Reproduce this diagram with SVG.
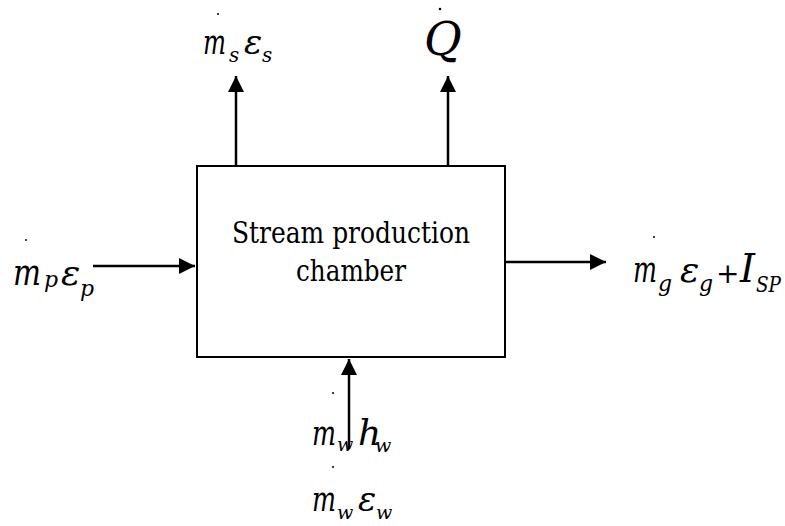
<svg xmlns="http://www.w3.org/2000/svg" width="785" height="526" viewBox="0 0 785 526">
<style>
.box{fill:#fff;stroke:#000;stroke-width:2}
.ln{stroke:#000;stroke-width:2.5;fill:none}
.dot{fill:#000}
text{font-family:'DejaVu Serif','Liberation Serif',serif;fill:#000}
.t{font-size:30px}
.m{font-style:italic}
</style>
<defs>
<marker id="ah" viewBox="0 0 10 10" refX="10" refY="5" markerWidth="6.5" markerHeight="6.5" markerUnits="strokeWidth" orient="auto">
<path d="M0,0 L10,5 L0,10 z" fill="#000"/>
</marker>
</defs>
<rect width="785" height="526" fill="#fff"/>
<g id="chamber">
<rect class="box" x="197" y="166" width="308" height="191"/>
<text class="t" x="232" y="243" textLength="238" lengthAdjust="spacingAndGlyphs">Stream production</text>
<text class="t" x="296" y="281" textLength="110" lengthAdjust="spacingAndGlyphs">chamber</text>
</g>
<g id="connectors">
<line class="ln" x1="236" y1="166" x2="236" y2="76" marker-end="url(#ah)"/>
<line class="ln" x1="448" y1="166" x2="448" y2="76" marker-end="url(#ah)"/>
<line class="ln" x1="93" y1="266" x2="195" y2="266" marker-end="url(#ah)"/>
<line class="ln" x1="505" y1="262" x2="606" y2="262" marker-end="url(#ah)"/>
<line class="ln" x1="349" y1="449" x2="349" y2="359" marker-end="url(#ah)"/>
</g>
<g id="label-ms">
<circle class="dot" cx="218" cy="14" r="1"/>
<text class="m" x="203" y="54" font-size="36" textLength="23" lengthAdjust="spacingAndGlyphs">m</text>
<text class="m" x="229" y="62" font-size="20">s</text>
<text class="m" x="244" y="54" font-size="34">ε</text>
<text class="m" x="262" y="62" font-size="20">s</text>
</g>
<g id="label-q">
<circle class="dot" cx="440" cy="9" r="1.3"/>
<text class="m" x="424" y="55" font-size="46">Q</text>
</g>
<g id="label-mp">
<circle class="dot" cx="26" cy="240" r="1"/>
<text class="m" x="13" y="285" font-size="38" textLength="28" lengthAdjust="spacingAndGlyphs">m</text>
<text class="m" x="44" y="287" font-size="22">p</text>
<text class="m" x="61" y="285" font-size="36">ε</text>
<text class="m" x="80" y="296" font-size="22">p</text>
</g>
<g id="label-mg">
<circle class="dot" cx="654" cy="237" r="1"/>
<text class="m" x="633" y="282" font-size="38" textLength="24" lengthAdjust="spacingAndGlyphs">m</text>
<text class="m" x="658" y="291" font-size="22">g</text>
<text class="m" x="680" y="282" font-size="36">ε</text>
<text class="m" x="699" y="291" font-size="22">g</text>
<text x="716" y="283" font-size="28">+</text>
<text class="m" x="740" y="282" font-size="40" textLength="15" lengthAdjust="spacingAndGlyphs">I</text>
<text class="m" x="756" y="292" font-size="22" textLength="25" lengthAdjust="spacingAndGlyphs">SP</text>
</g>
<g id="label-mw">
<circle class="dot" cx="333" cy="393" r="1"/>
<text class="m" x="312" y="445" font-size="36" textLength="24" lengthAdjust="spacingAndGlyphs">m</text>
<text class="m" x="337" y="451" font-size="19">w</text>
<text class="m" x="358" y="445" font-size="36">h</text>
<text class="m" x="375" y="452" font-size="19">w</text>
<circle class="dot" cx="333" cy="467" r="1"/>
<text class="m" x="312" y="511" font-size="36" textLength="24" lengthAdjust="spacingAndGlyphs">m</text>
<text class="m" x="337" y="519" font-size="19">w</text>
<text class="m" x="358" y="511" font-size="34">ε</text>
<text class="m" x="376" y="519" font-size="19">w</text>
</g>
</svg>
